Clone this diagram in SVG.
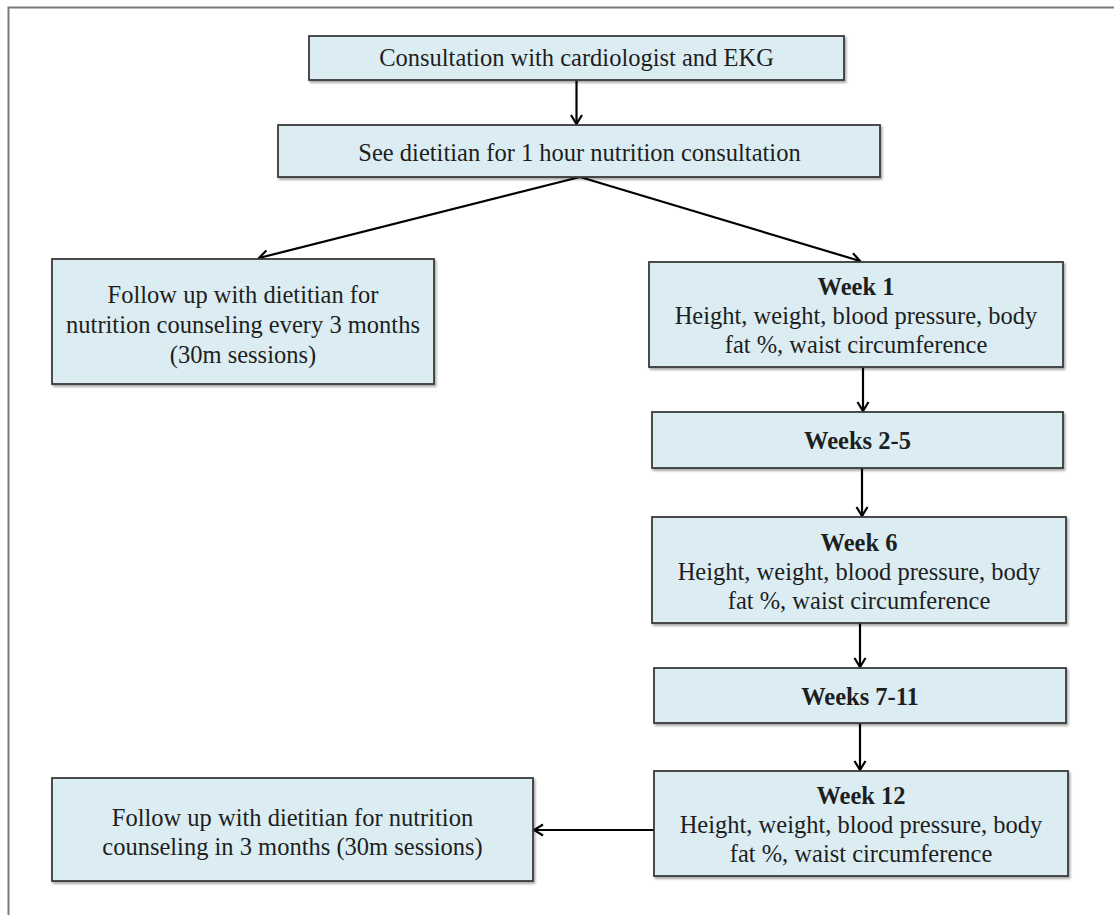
<svg xmlns="http://www.w3.org/2000/svg" width="1114" height="915" viewBox="0 0 1114 915">
<defs>
<filter id="sh" x="-5%" y="-5%" width="115%" height="125%">
<feDropShadow dx="1.5" dy="2" stdDeviation="1.2" flood-color="#000" flood-opacity="0.35"/>
</filter>
<marker id="arr" viewBox="0 0 14 14" markerWidth="14" markerHeight="14" refX="12" refY="7" orient="auto" markerUnits="userSpaceOnUse">
<path d="M3,1.5 L12,7 L3,12.5" fill="none" stroke="#000" stroke-width="2.2"/>
</marker>
<style>
.box{fill:#dbedf3;stroke:#3a3a3a;stroke-width:1.8;filter:url(#sh)}
.t{font-family:"Liberation Serif","Times New Roman",serif;font-size:24.5px;fill:#1e1e1e;text-anchor:middle}
.b{font-weight:bold}
.c{fill:none;stroke:#000;stroke-width:2.2;marker-end:url(#arr)}
</style>
</defs>
<rect width="1114" height="915" fill="#fff"/>
<path d="M8.5,915 V7.5 H1114" fill="none" stroke="#7a7a7a" stroke-width="2"/>

<g id="connectors">
<line class="c" x1="576.5" y1="80" x2="576.5" y2="124"/>
<line class="c" x1="580" y1="177" x2="259" y2="258"/>
<line class="c" x1="580" y1="177" x2="860" y2="261"/>
<line class="c" x1="863" y1="367" x2="863" y2="411"/>
<line class="c" x1="862" y1="468" x2="862" y2="516"/>
<line class="c" x1="860" y1="623" x2="860" y2="667"/>
<line class="c" x1="860" y1="723" x2="860" y2="770"/>
<line class="c" x1="654" y1="830" x2="534" y2="830"/>
</g>

<g id="n1">
<rect class="box" x="309" y="36" width="535" height="44"/>
<text class="t" x="576.5" y="66">Consultation with cardiologist and EKG</text>
</g>
<g id="n2">
<rect class="box" x="278" y="125" width="602" height="52"/>
<text class="t" x="579.5" y="161">See dietitian for 1 hour nutrition consultation</text>
</g>
<g id="n3">
<rect class="box" x="52" y="259" width="382" height="125"/>
<text class="t" x="243" y="303">Follow up with dietitian for</text>
<text class="t" x="243" y="333">nutrition counseling every 3 months</text>
<text class="t" x="243" y="363">(30m sessions)</text>
</g>
<g id="n4">
<rect class="box" x="649" y="262" width="414" height="105"/>
<text class="t b" x="856" y="295">Week 1</text>
<text class="t" x="856" y="324">Height, weight, blood pressure, body</text>
<text class="t" x="856" y="353">fat %, waist circumference</text>
</g>
<g id="n5">
<rect class="box" x="652" y="412" width="411" height="56"/>
<text class="t b" x="857.5" y="449">Weeks 2-5</text>
</g>
<g id="n6">
<rect class="box" x="652" y="517" width="414" height="106"/>
<text class="t b" x="859" y="551">Week 6</text>
<text class="t" x="859" y="580">Height, weight, blood pressure, body</text>
<text class="t" x="859" y="609">fat %, waist circumference</text>
</g>
<g id="n7">
<rect class="box" x="654" y="668" width="412" height="55"/>
<text class="t b" x="860" y="705">Weeks 7-11</text>
</g>
<g id="n8">
<rect class="box" x="654" y="771" width="414" height="105"/>
<text class="t b" x="861" y="804">Week 12</text>
<text class="t" x="861" y="833">Height, weight, blood pressure, body</text>
<text class="t" x="861" y="862">fat %, waist circumference</text>
</g>
<g id="n9">
<rect class="box" x="52" y="778" width="481" height="103"/>
<text class="t" x="292.5" y="826">Follow up with dietitian for nutrition</text>
<text class="t" x="292.5" y="855">counseling in 3 months (30m sessions)</text>
</g>
</svg>
